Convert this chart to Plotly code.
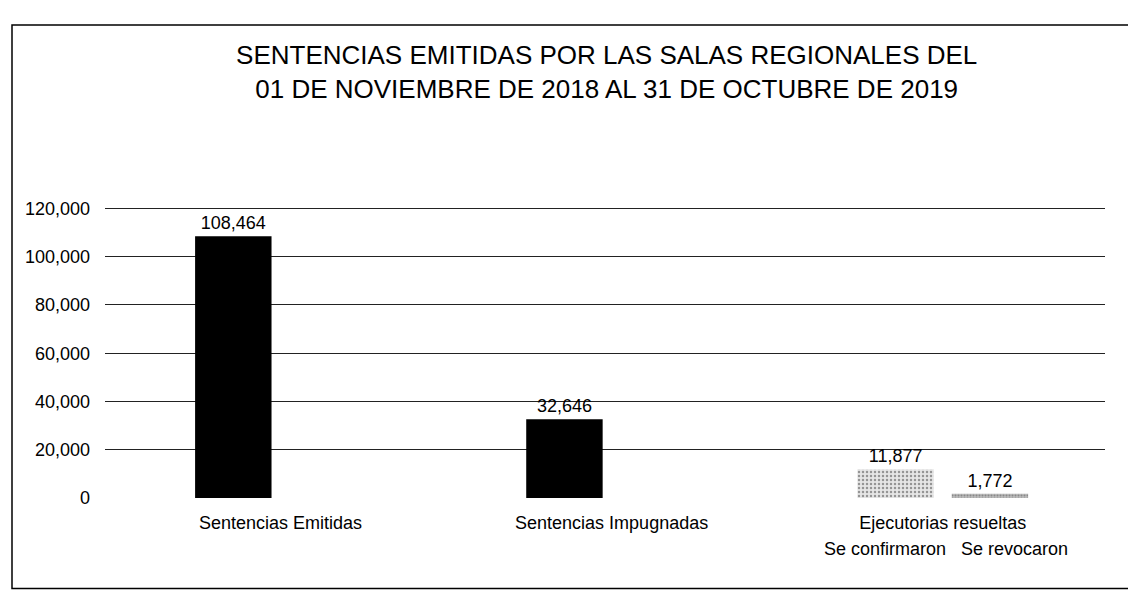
import plotly.graph_objects as go

title_lines = ["SENTENCIAS EMITIDAS POR LAS SALAS REGIONALES DEL",
               "01 DE NOVIEMBRE DE 2018 AL 31 DE OCTUBRE DE 2019"]
categories = ["Sentencias Emitidas", "Sentencias Impugnadas", "Ejecutorias resueltas"]
series_a_name = "Se confirmaron"
series_a = [108464, 32646, 11877]
series_b_name = "Se revocaron"
series_b = [None, None, 1772]
y_ticks = [0, 20000, 40000, 60000, 80000, 100000, 120000]

FONT = "Liberation Sans, Arial, sans-serif"

fig = go.Figure()
fig.add_trace(go.Bar(
    x=categories, y=series_a, name=series_a_name,
    marker=dict(color=["#000000", "#000000", "#e6e6e6"],
                line=dict(width=0),
                pattern=dict(shape=["", "", "."], fgcolor="#9a9a9a",
                             bgcolor="#f4f4f4", size=4, solidity=0.3)),
    text=[f"{v:,}" for v in series_a], textposition="outside",
    textfont=dict(size=18, color="#000000", family=FONT),
    cliponaxis=False,
))
fig.add_trace(go.Bar(
    x=categories, y=series_b, name=series_b_name,
    marker=dict(color="#8c8c8c", line=dict(width=0),
                pattern=dict(shape=".", fgcolor="#555555", bgcolor="#bdbdbd",
                             size=3, solidity=0.4)),
    text=["" if v is None else f"{v:,}" for v in series_b], textposition="outside",
    textfont=dict(size=18, color="#000000", family=FONT),
    cliponaxis=False,
))

for name, shift in [(series_a_name, -58), (series_b_name, 72)]:
    fig.add_annotation(x=categories[2], xref="x", y=-0.176, yref="paper",
                       yanchor="middle", text=name, showarrow=False, xshift=shift,
                       font=dict(size=18, color="#000000", family=FONT))

# chart-area frame
fig.add_shape(type="rect", xref="paper", yref="paper",
              x0=-0.093, x1=1.027, y0=-0.31, y1=1.62,
              line=dict(color="#000000", width=1.5), fillcolor="rgba(0,0,0,0)")

fig.update_layout(
    width=1136, height=600,
    margin=dict(l=97, r=39, t=198, b=110),
    paper_bgcolor="white", plot_bgcolor="white",
    barmode="group", bargap=0.43, bargroupgap=0.19,
    showlegend=False,
    font=dict(family=FONT, color="#000000"),
    title=dict(text="<br>".join(title_lines), x=0.527, xanchor="center",
               xref="container", y=0.906, yanchor="middle",
               font=dict(size=26, color="#000000", family=FONT)),
    xaxis=dict(range=[-0.53, 2.49], showgrid=False, showline=False,
               zeroline=False, ticks="", ticklabelstandoff=12,
               tickfont=dict(size=18, color="#000000")),
    yaxis=dict(range=[0, 121000], tickvals=y_ticks, tickformat=",",
               showgrid=True, gridcolor="#222222", gridwidth=1,
               zeroline=True, zerolinecolor="white", zerolinewidth=2,
               showline=False, ticks="", ticklabelstandoff=14,
               tickfont=dict(size=18, color="#000000")),
)

fig.write_html("out.html")
